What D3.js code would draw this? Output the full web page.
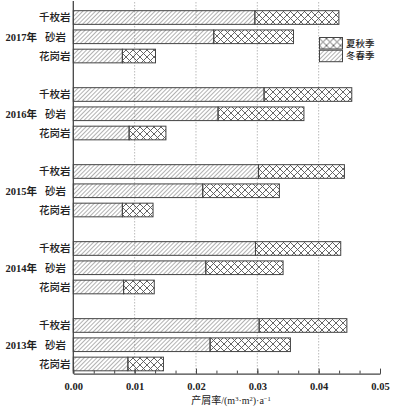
<!DOCTYPE html>
<html>
<head>
<meta charset="utf-8">
<script src="https://cdn.jsdelivr.net/npm/d3@7"></script>
<style>
body { margin:0; background:#fff; }
text { fill:#222; }
</style>
</head>
<body>
<div id="vis"></div>
<script>
// data
var years = ["2017年", "2016年", "2015年", "2014年", "2013年"];
var rocks = ["千枚岩", "砂岩", "花岗岩"];
var seasons = ["夏秋季", "冬春季"];
// 冬春季 (hatched, drawn from zero)
var winterSpring = [
  [0.0296, 0.0229, 0.0080],
  [0.0311, 0.0236, 0.0091],
  [0.0302, 0.0211, 0.0080],
  [0.0297, 0.0216, 0.0082],
  [0.0303, 0.0223, 0.0089]
];
// 夏秋季 (cross hatched, stacked on top)
var summerAutumn = [
  [0.0137, 0.0130, 0.0054],
  [0.0143, 0.0140, 0.0060],
  [0.0140, 0.0125, 0.0050],
  [0.0139, 0.0126, 0.0050],
  [0.0143, 0.0131, 0.0058]
];
var xTicks = [0, 0.01, 0.02, 0.03, 0.04, 0.05];

var width = 395, height = 415;
var svg = d3.select("#vis").append("svg")
    .attr("width", width)
    .attr("height", height);

// patterns
var defs = svg.append("defs");
defs.append("pattern")
    .attr("id", "hatch")
    .attr("patternUnits", "userSpaceOnUse")
    .attr("width", 3).attr("height", 3)
    .attr("patternTransform", "rotate(45)")
  .append("line")
    .attr("x1", 0).attr("y1", 0).attr("x2", 0).attr("y2", 3)
    .attr("stroke", "#555").attr("stroke-width", 0.9);
var cross = defs.append("pattern")
    .attr("id", "cross")
    .attr("patternUnits", "userSpaceOnUse")
    .attr("width", 7).attr("height", 7)
    .attr("x", 0).attr("y", 1);
cross.append("line").attr("x1", 0).attr("y1", 0).attr("x2", 7).attr("y2", 7)
    .attr("stroke", "#555").attr("stroke-width", 0.9);
cross.append("line").attr("x1", 7).attr("y1", 0).attr("x2", 0).attr("y2", 7)
    .attr("stroke", "#555").attr("stroke-width", 0.9);

// rows: every year gets three rocks and an empty slot after it
var rows = [];
years.forEach(function(y, i) {
  rocks.forEach(function(r, j) {
    rows.push({key: y + "|" + r, year: i, rock: j});
  });
  if (i < years.length - 1) rows.push({key: "gap" + i, gap: true});
});

var x = d3.scaleLinear().domain([0, 0.05]).range([73.3, 380]);
var y = d3.scaleBand()
    .domain(rows.map(function(d) { return d.key; }))
    .range([7.9, 373.6])
    .paddingInner(0.29)
    .paddingOuter(0.145);

// dotted grid
svg.append("g").selectAll("line")
    .data(xTicks.slice(1, -1))
    .enter().append("line")
    .attr("x1", x).attr("x2", x)
    .attr("y1", 2).attr("y2", 373.6)
    .attr("stroke", "#aaa")
    .attr("stroke-width", 0.8)
    .attr("stroke-dasharray", "1.5,1.5");

// bars
var bars = rows.filter(function(d) { return !d.gap; });
var g = svg.append("g");
g.selectAll("rect.ws")
    .data(bars)
    .enter().append("rect")
    .attr("class", "ws")
    .attr("x", x(0))
    .attr("y", function(d) { return y(d.key); })
    .attr("width", function(d) { return x(winterSpring[d.year][d.rock]) - x(0); })
    .attr("height", y.bandwidth())
    .attr("fill", "url(#hatch)")
    .attr("stroke", "#444")
    .attr("stroke-width", 1);
g.selectAll("rect.sa")
    .data(bars)
    .enter().append("rect")
    .attr("class", "sa")
    .attr("x", function(d) { return x(winterSpring[d.year][d.rock]); })
    .attr("y", function(d) { return y(d.key); })
    .attr("width", function(d) {
      var a = winterSpring[d.year][d.rock];
      return x(a + summerAutumn[d.year][d.rock]) - x(a);
    })
    .attr("height", y.bandwidth())
    .attr("fill", "url(#cross)")
    .attr("stroke", "#444")
    .attr("stroke-width", 1);

// left axis line
svg.append("line")
    .attr("x1", x(0)).attr("x2", x(0))
    .attr("y1", 1).attr("y2", 373.6)
    .attr("stroke", "#444").attr("stroke-width", 1.3);

// bottom axis, ticks pointing inwards
var axisY = 373.6;
var minor = d3.range(0, 0.0501, 0.01 / 3);
svg.append("g")
    .attr("transform", "translate(0," + axisY + ")")
    .call(d3.axisBottom(x).tickValues(minor).tickSize(-3).tickFormat(""))
    .call(function(a) { a.select(".domain").remove(); })
    .selectAll("line").attr("stroke", "#444");
var xAxis = svg.append("g")
    .attr("transform", "translate(0," + axisY + ")")
    .call(d3.axisBottom(x).tickValues(xTicks).tickSizeInner(-5).tickSizeOuter(0)
      .tickPadding(9).tickFormat(d3.format(".2f")));
xAxis.select(".domain").attr("stroke", "#444").attr("stroke-width", 1.3);
xAxis.selectAll("line").attr("stroke", "#444");
xAxis.selectAll("text")
    .attr("font-family", "'Liberation Serif', serif")
    .attr("font-weight", "bold")
    .attr("font-size", "10.5px")
    .attr("fill", "#222");

// rock labels
var labelFont = "'Liberation Serif', 'Noto Sans CJK SC', serif";
svg.append("g").selectAll("text")
    .data(bars)
    .enter().append("text")
    .attr("x", function(d) { return d.rock == 1 ? 66 : 70.5; })
    .attr("y", function(d) { return y(d.key) + y.bandwidth() / 2; })
    .attr("dy", "0.36em")
    .attr("text-anchor", "end")
    .attr("font-family", labelFont)
    .attr("font-weight", 500)
    .attr("font-size", "10.5px")
    .text(function(d) { return rocks[d.rock]; });

// year labels beside the middle rock
svg.append("g").selectAll("text")
    .data(bars.filter(function(d) { return d.rock == 1; }))
    .enter().append("text")
    .attr("x", 5.5)
    .attr("y", function(d) { return y(d.key) + y.bandwidth() / 2; })
    .attr("dy", "0.36em")
    .attr("font-family", labelFont)
    .attr("font-weight", "bold")
    .attr("font-size", "10.5px")
    .text(function(d) { return years[d.year]; });

// legend
var legend = svg.append("g").attr("transform", "translate(319.5,37.5)");
legend.selectAll("rect")
    .data(seasons)
    .enter().append("rect")
    .attr("x", 0)
    .attr("y", function(d, i) { return i * 12.7; })
    .attr("width", 23)
    .attr("height", 11.5)
    .attr("fill", function(d, i) { return i == 0 ? "url(#cross)" : "url(#hatch)"; })
    .attr("stroke", "#444");
legend.selectAll("text")
    .data(seasons)
    .enter().append("text")
    .attr("x", 26.5)
    .attr("y", function(d, i) { return i * 12.7 + 5.75; })
    .attr("dy", "0.36em")
    .attr("font-family", "'Noto Sans CJK SC', sans-serif")
    .attr("font-weight", 500)
    .attr("font-size", "9.5px")
    .text(function(d) { return d; });

// axis title
var title = svg.append("text")
    .attr("x", 231)
    .attr("y", 404)
    .attr("text-anchor", "middle")
    .attr("font-family", "'Liberation Serif', 'Noto Sans CJK SC', serif")
    .attr("font-size", "10px");
title.append("tspan").text("产屑率/(m");
title.append("tspan").attr("font-size", "6.5px").attr("dy", "-3.5").text("3");
title.append("tspan").attr("dy", "3.5").text("·m");
title.append("tspan").attr("font-size", "6.5px").attr("dy", "-3.5").text("2");
title.append("tspan").attr("dy", "3.5").text(")·a");
title.append("tspan").attr("font-size", "6.5px").attr("dy", "-3.5").text("−1");
</script>
</body>
</html>
